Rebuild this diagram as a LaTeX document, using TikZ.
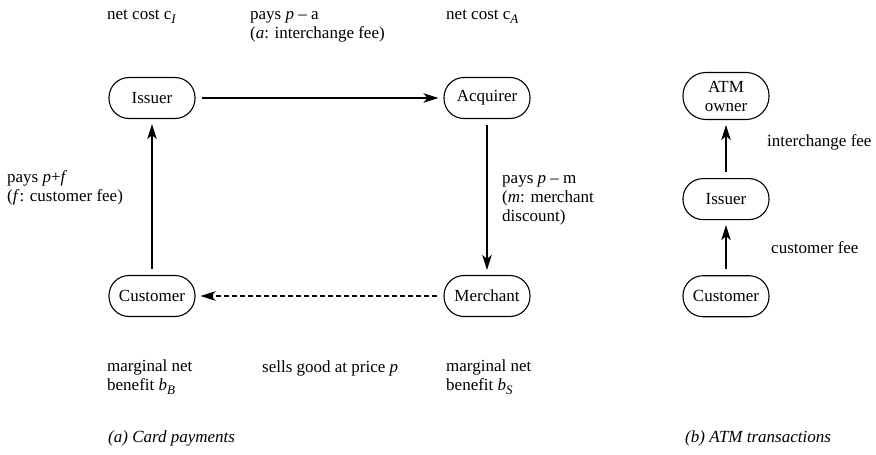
\documentclass[tikz,border=0pt]{standalone}
\usepackage{fontspec}
\setmainfont{Liberation Serif}
\usetikzlibrary{arrows.meta, positioning}
\def\lsub#1{\raisebox{-0.5ex}{\fontsize{13}{13}\selectfont\textit{#1}}}

\begin{document}
\begin{tikzpicture}[
    x=1pt, y=-1pt,
    every node/.style={font=\fontsize{17}{19}\selectfont, inner sep=0pt},
    party/.style={rectangle, draw, line width=1.1pt, rounded corners=20pt, minimum width=86pt, minimum height=41pt, align=center},
    flow/.style={-{Stealth[length=15pt, width=9.5pt, inset=4pt]}, line width=1.1pt, shorten <=6pt, shorten >=5pt},
    goods/.style={flow, dash pattern=on 5pt off 3pt},
    note/.style={anchor=west, align=left}
]
\useasboundingbox (0,0) rectangle (876,455);

% (a) Card payments
\node[party] (iss) at (152,98) {Issuer};
\node[party] (acq) at (487,98) {Acquirer};
\node[party] (mer) at (487,296) {Merchant};
\node[party] (cus) at (152,296) {Customer};

\draw[flow] (iss) -- (acq);
\draw[flow] (acq) -- (mer);
\draw[goods] (mer) -- (cus);
\draw[flow] (cus) -- (iss);

\node[note] (costI) at (107,17) {net cost c\lsub{I}};
\node[note] (payA) at (250,27) {pays \textit{p} -- a\\(\textit{a}: interchange fee)};
\node[note] (costA) at (446,17) {net cost c\lsub{A}};
\node[note] (payF) at (7,188) {pays \textit{p}+\textit{f}\\(\textit{f}: customer fee)};
\node[note] (payM) at (502,200) {pays \textit{p} -- m\\(\textit{m}: merchant\\discount)};
\node[note] (benB) at (107,377) {marginal net\\benefit \textit{b}\lsub{B}};
\node[note] (sell) at (262,368) {sells good at price \textit{p}};
\node[note] (benS) at (446,377) {marginal net\\benefit \textit{b}\lsub{S}};
\node[note] (capA) at (108,438) {\textit{(a) Card payments}};

% (b) ATM transactions
\node[party, minimum height=47pt, rounded corners=23pt] (own) at (726,96) {ATM\\owner};
\node[party, below=58pt of own] (iss2) {Issuer};
\node[party, below=55pt of iss2] (cus2) {Customer};

\draw[flow] (iss2) -- (own);
\draw[flow] (cus2) -- (iss2);

\node[note] (feeA) at (767,142) {interchange fee};
\node[note] (feeC) at (771,248) {customer fee};
\node[note] (capB) at (685,438) {\textit{(b) ATM transactions}};

\end{tikzpicture}
\end{document}
